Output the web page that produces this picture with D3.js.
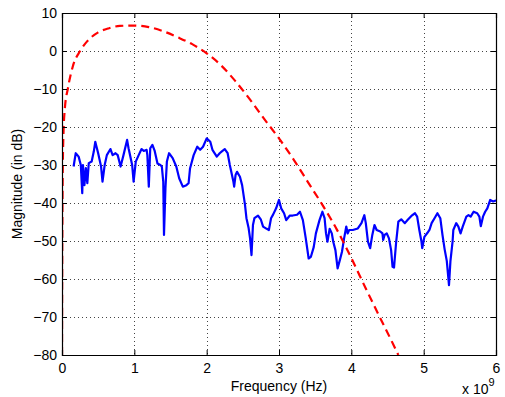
<!DOCTYPE html>
<html>
<head>
<meta charset="utf-8">
<script src="https://cdn.jsdelivr.net/npm/d3@7"></script>
<style>
  body { margin: 0; background: #fff; }
  svg { font-family: "Liberation Sans", Arial, sans-serif; }
</style>
</head>
<body>
<div id="chart"></div>
<script>
// measured response (GHz, dB)
const measFreq = [0.16, 0.19, 0.23, 0.26, 0.28, 0.29, 0.31, 0.33, 0.35, 0.37, 0.41, 0.44, 0.46, 0.50, 0.54, 0.56, 0.59, 0.62, 0.67, 0.70, 0.74, 0.77, 0.81, 0.85, 0.90, 0.92, 0.97, 0.99, 1.02, 1.06, 1.10,
  1.13, 1.17, 1.18, 1.20, 1.22, 1.25, 1.28, 1.32, 1.36, 1.38, 1.40, 1.41, 1.43, 1.45, 1.48, 1.53, 1.58, 1.62, 1.67, 1.72, 1.75, 1.77, 1.82, 1.87, 1.91, 1.95, 2.00, 2.05, 2.08, 2.14, 2.18,
  2.21, 2.25, 2.29, 2.32, 2.37, 2.38, 2.40, 2.42, 2.46, 2.49, 2.53, 2.55, 2.58, 2.60, 2.62, 2.64, 2.66, 2.71, 2.75, 2.78, 2.83, 2.86, 2.89, 2.92, 2.96, 3.00, 3.03, 3.07, 3.10, 3.15, 3.19, 3.25,
  3.29, 3.33, 3.37, 3.41, 3.44, 3.48, 3.51, 3.56, 3.60, 3.63, 3.65, 3.67, 3.70, 3.73, 3.75, 3.78, 3.81, 3.84, 3.87, 3.90, 3.93, 3.95, 3.97, 4.02, 4.09, 4.14, 4.18, 4.20, 4.23, 4.26, 4.29, 4.32,
  4.35, 4.40, 4.43, 4.44, 4.46, 4.49, 4.52, 4.55, 4.57, 4.59, 4.62, 4.65, 4.69, 4.74, 4.78, 4.83, 4.88, 4.91, 4.94, 4.97, 4.98, 5.01, 5.05, 5.08, 5.11, 5.15, 5.19, 5.23, 5.26, 5.29, 5.32, 5.35,
  5.37, 5.40, 5.41, 5.45, 5.48, 5.51, 5.54, 5.59, 5.62, 5.65, 5.69, 5.74, 5.77, 5.79, 5.82, 5.85, 5.88, 5.92, 5.96, 5.99, 6.00];
const measDb = [-30.4, -26.9, -27.8, -30, -37.4, -30, -35.3, -30.8, -34.8, -29.5, -29.1, -26.4, -23.9, -26.9, -30.4, -34.4, -30, -27.4, -25.8, -27.4, -26.9, -27.4, -30.4, -27.4, -23.4, -25.6, -30, -34.4, -29.1, -27.4, -25.8,
  -26.3, -26, -27.4, -35.7, -25.6, -24.7, -26.2, -29.6, -30, -30.4, -34.4, -48.4, -36.2, -29.1, -26.9, -28.2, -30.4, -33.5, -35.7, -35.3, -34.8, -30.9, -27.4, -25.2, -26, -25.2, -23, -23.9, -26, -27.8, -26.9,
  -26.4, -25.8, -26.9, -30, -34.4, -35.7, -32.6, -31.8, -33.1, -35.3, -40.5, -44, -46.6, -49.3, -53.7, -45.8, -44, -43.3, -44.4, -46.2, -46.8, -47.1, -44, -43, -41.4, -39.2, -41.4, -42.7, -44.5, -43.3, -43.3, -43.1,
  -42.3, -44.5, -49.3, -54.6, -54.2, -51.6, -48, -44.5, -42.3, -44, -48, -50.2, -46.8, -48, -50.2, -52.4, -57.2, -55.1, -52.9, -49.3, -46.2, -48, -47.1, -47.1, -46.7, -45.3, -43.2, -45.3, -50.2, -51.9, -48.4, -45.8,
  -47.1, -47.5, -48, -49.7, -48.4, -48, -49.3, -52.4, -56.8, -57, -50.2, -44.9, -44.3, -45.3, -44.4, -43.4, -42.7, -43.6, -47.1, -50.2, -51.9, -48.9, -47.9, -47.1, -45.3, -44, -42.7, -44, -48.4, -52.2, -55.3, -61.6,
  -55.3, -50.1, -47.1, -45.3, -46.2, -48, -46.2, -43.6, -43.2, -43.6, -42.3, -42.7, -43.6, -46.1, -43.6, -42.3, -41.4, -39.2, -39.6, -39.4, -39.2];

// model response (GHz, dB)
const modelFreq = [0, 0.003, 0.006, 0.01, 0.02, 0.04, 0.08, 0.15, 0.25, 0.35, 0.5, 0.65, 0.8, 1.0, 1.2, 1.4, 1.6, 1.8, 2.0, 2.2, 2.4, 2.6, 2.8, 3.0, 3.2, 3.4, 3.6, 3.8, 4.0, 4.2, 4.4, 4.6, 4.65];
const modelDb = [-80, -55, -42, -32, -22, -15, -10, -4, 0, 2.6, 4.9, 6.0, 6.6, 6.7, 6.3, 5.2, 3.6, 1.8, -0.6, -3.8, -8.0, -12.8, -18.0, -23.0, -28.5, -34.5, -40.5, -47, -54.5, -62.5, -70.3, -78, -80];

const xTicks = [0, 1, 2, 3, 4, 5, 6];
const yTicks = [10, 0, -10, -20, -30, -40, -50, -60, -70, -80];

const W = 505, H = 397;
const margin = { top: 13, right: 9, bottom: 42, left: 62 };
const iw = W - margin.left - margin.right;
const ih = H - margin.top - margin.bottom;

const svg = d3.select('#chart').append('svg')
  .attr('width', W)
  .attr('height', H);

const g = svg.append('g')
  .attr('transform', `translate(${margin.left},${margin.top})`);

const x = d3.scaleLinear().domain([0, 6]).range([0, iw]);
const y = d3.scaleLinear().domain([-80, 10]).range([ih, 0]);

g.append('rect').attr('width', iw).attr('height', ih).attr('fill', '#fff');

// dotted grid
g.append('g').selectAll('line').data(xTicks.slice(1, -1)).join('line')
  .attr('x1', d => Math.round(x(d)) + 0.5).attr('x2', d => Math.round(x(d)) + 0.5)
  .attr('y1', 0).attr('y2', ih)
  .attr('stroke', '#444').attr('stroke-width', 1).attr('stroke-dasharray', '1,3');
g.append('g').selectAll('line').data(yTicks.slice(1, -1)).join('line')
  .attr('y1', d => Math.round(y(d)) + 0.5).attr('y2', d => Math.round(y(d)) + 0.5)
  .attr('x1', 0).attr('x2', iw)
  .attr('stroke', '#444').attr('stroke-width', 1).attr('stroke-dasharray', '1,3');

// clip for data
svg.append('defs').append('clipPath').attr('id', 'clip')
  .append('rect').attr('width', iw).attr('height', ih + 1);

const plot = g.append('g').attr('clip-path', 'url(#clip)');

const measLine = d3.line()
  .x((d, i) => x(measFreq[i]))
  .y(d => y(d));

plot.append('path')
  .datum(measDb)
  .attr('d', measLine)
  .attr('fill', 'none')
  .attr('stroke', '#0000ff')
  .attr('stroke-width', 2.2)
  .attr('stroke-linejoin', 'round');

const modelLine = d3.line()
  .x((d, i) => x(modelFreq[i]))
  .y(d => y(d))
  .curve(d3.curveMonotoneX);

plot.append('path')
  .datum(modelDb)
  .attr('d', modelLine)
  .attr('fill', 'none')
  .attr('stroke', '#ff0000')
  .attr('stroke-width', 2.2)
  .attr('stroke-dasharray', '8,5');

// axes (ticks inside, box)
const tickLen = 5;
const xAxis = d3.axisBottom(x).tickValues(xTicks).tickSize(-tickLen).tickPadding(8).tickFormat(d3.format('d'));
const yAxis = d3.axisLeft(y).tickValues(yTicks).tickSize(-tickLen).tickPadding(5).tickFormat(d3.format('d'));

const gx = g.append('g').attr('transform', `translate(0,${ih})`).call(xAxis);
const gy = g.append('g').call(yAxis);
const gxTop = g.append('g').call(d3.axisTop(x).tickValues(xTicks).tickSize(-tickLen).tickFormat(''));
const gyRight = g.append('g').attr('transform', `translate(${iw},0)`)
  .call(d3.axisRight(y).tickValues(yTicks).tickSize(-tickLen).tickFormat(''));

[gx, gy, gxTop, gyRight].forEach(a => {
  a.select('.domain').attr('stroke', '#000').attr('stroke-width', 1.2);
  a.selectAll('.tick line').attr('stroke', '#000');
  a.selectAll('text').attr('fill', '#000').style('font-size', '14px')
    .style('font-family', '"Liberation Sans", Arial, sans-serif');
});

// labels
svg.append('text')
  .attr('x', margin.left + iw / 2)
  .attr('y', 391)
  .attr('text-anchor', 'middle')
  .style('font-size', '14px')
  .text('Frequency (Hz)');

svg.append('text')
  .attr('transform', `translate(22,${margin.top + ih / 2}) rotate(-90)`)
  .attr('text-anchor', 'middle')
  .style('font-size', '14px')
  .text('Magnitude (in dB)');

const exp = svg.append('text')
  .attr('x', 462)
  .attr('y', 394)
  .style('font-size', '14px')
  .text('x 10');
exp.append('tspan')
  .attr('dy', -8)
  .style('font-size', '11px')
  .text('9');
</script>
</body>
</html>
